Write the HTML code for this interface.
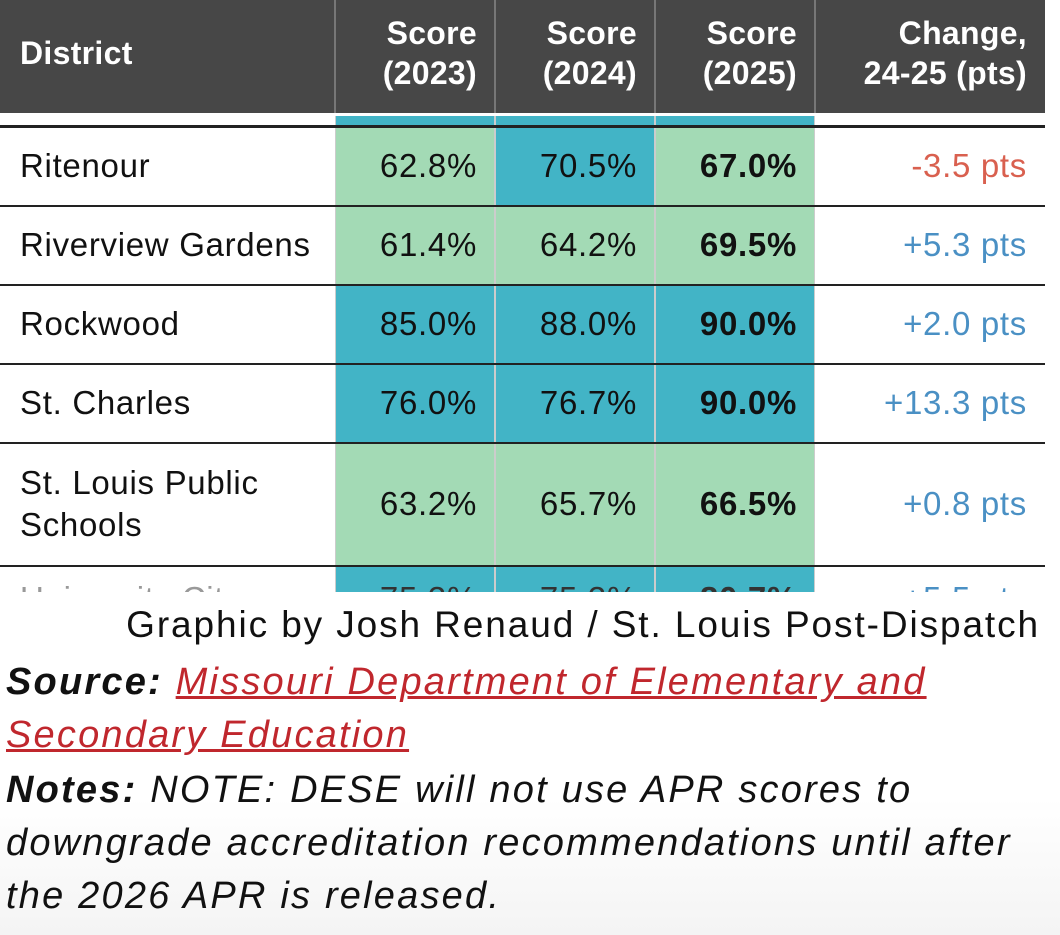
<!DOCTYPE html>
<html><head><meta charset="utf-8"><style>
body{margin:0;width:1060px;height:935px;overflow:hidden;background:#fff;font-family:"Liberation Sans",sans-serif;position:relative}
.hd{position:absolute;left:0;top:0;width:1045px;height:113px;background:#474747}
.hc{position:absolute;color:#fff;font-weight:bold;font-size:32px;line-height:40px;text-align:right;letter-spacing:0.3px}
.vs{position:absolute;top:0;width:2px;height:113px;background:#777}
.cell{position:absolute;box-sizing:border-box;border-left:1px solid #ccc;border-right:1px solid #ccc}
.g{background:#a3dab5}.t{background:#42b4c6}
.hl{position:absolute;left:0;width:1045px;height:2px;background:#222}
.tx{position:absolute;font-size:33px;color:#111;line-height:42px;letter-spacing:0.7px;white-space:nowrap}
.r{text-align:right}
.ft{position:absolute;left:6px;font-size:38px;font-style:italic;color:#111;line-height:53px;width:1050px;white-space:nowrap;letter-spacing:2.2px}
a{color:#c0272d}
</style></head><body>
<div class="hd"></div>
<div class="vs" style="left:334px"></div><div class="vs" style="left:494px"></div><div class="vs" style="left:654px"></div><div class="vs" style="left:814px"></div>
<div class="hc" style="left:20px;top:33px;text-align:left">District</div>
<div class="hc" style="left:335px;top:13px;width:142px">Score<br>(2023)</div>
<div class="hc" style="left:495px;top:13px;width:142px">Score<br>(2024)</div>
<div class="hc" style="left:655px;top:13px;width:142px">Score<br>(2025)</div>
<div class="hc" style="left:815px;top:13px;width:212px">Change,<br>24-25 (pts)</div>

<div class="cell t" style="left:335px;top:116px;width:160px;height:10px"></div>
<div class="cell t" style="left:495px;top:116px;width:160px;height:10px"></div>
<div class="cell t" style="left:655px;top:116px;width:160px;height:10px"></div>

<div class="cell g" style="left:335px;top:126px;width:160px;height:80px"></div><div class="cell t" style="left:495px;top:126px;width:160px;height:80px"></div><div class="cell g" style="left:655px;top:126px;width:160px;height:80px"></div>
<div class="cell g" style="left:335px;top:206px;width:160px;height:79px"></div><div class="cell g" style="left:495px;top:206px;width:160px;height:79px"></div><div class="cell g" style="left:655px;top:206px;width:160px;height:79px"></div>
<div class="cell t" style="left:335px;top:285px;width:160px;height:79px"></div><div class="cell t" style="left:495px;top:285px;width:160px;height:79px"></div><div class="cell t" style="left:655px;top:285px;width:160px;height:79px"></div>
<div class="cell t" style="left:335px;top:364px;width:160px;height:79px"></div><div class="cell t" style="left:495px;top:364px;width:160px;height:79px"></div><div class="cell t" style="left:655px;top:364px;width:160px;height:79px"></div>
<div class="cell g" style="left:335px;top:443px;width:160px;height:123px"></div><div class="cell g" style="left:495px;top:443px;width:160px;height:123px"></div><div class="cell g" style="left:655px;top:443px;width:160px;height:123px"></div>
<div class="cell t" style="left:335px;top:566px;width:160px;height:26px"></div><div class="cell t" style="left:495px;top:566px;width:160px;height:26px"></div><div class="cell t" style="left:655px;top:566px;width:160px;height:26px"></div>

<div class="hl" style="top:125px;height:3px"></div>
<div class="hl" style="top:205px"></div>
<div class="hl" style="top:284px"></div>
<div class="hl" style="top:363px"></div>
<div class="hl" style="top:442px"></div>
<div class="hl" style="top:565px"></div>

<div class="tx" style="left:20px;top:145px">Ritenour</div>
<div class="tx r" style="left:335px;top:145px;width:142px">62.8%</div>
<div class="tx r" style="left:495px;top:145px;width:142px">70.5%</div>
<div class="tx r" style="left:655px;top:145px;width:142px;font-weight:bold">67.0%</div>
<div class="tx r" style="left:795px;top:145px;width:232px;color:#d9604f">-3.5 pts</div>

<div class="tx" style="left:20px;top:224px">Riverview Gardens</div>
<div class="tx r" style="left:335px;top:224px;width:142px">61.4%</div>
<div class="tx r" style="left:495px;top:224px;width:142px">64.2%</div>
<div class="tx r" style="left:655px;top:224px;width:142px;font-weight:bold">69.5%</div>
<div class="tx r" style="left:795px;top:224px;width:232px;color:#4a90c4">+5.3 pts</div>

<div class="tx" style="left:20px;top:303px">Rockwood</div>
<div class="tx r" style="left:335px;top:303px;width:142px">85.0%</div>
<div class="tx r" style="left:495px;top:303px;width:142px">88.0%</div>
<div class="tx r" style="left:655px;top:303px;width:142px;font-weight:bold">90.0%</div>
<div class="tx r" style="left:795px;top:303px;width:232px;color:#4a90c4">+2.0 pts</div>

<div class="tx" style="left:20px;top:382px">St. Charles</div>
<div class="tx r" style="left:335px;top:382px;width:142px">76.0%</div>
<div class="tx r" style="left:495px;top:382px;width:142px">76.7%</div>
<div class="tx r" style="left:655px;top:382px;width:142px;font-weight:bold">90.0%</div>
<div class="tx r" style="left:795px;top:382px;width:232px;color:#4a90c4">+13.3 pts</div>

<div class="tx" style="left:20px;top:462px">St. Louis Public<br>Schools</div>
<div class="tx r" style="left:335px;top:483px;width:142px">63.2%</div>
<div class="tx r" style="left:495px;top:483px;width:142px">65.7%</div>
<div class="tx r" style="left:655px;top:483px;width:142px;font-weight:bold">66.5%</div>
<div class="tx r" style="left:795px;top:483px;width:232px;color:#4a90c4">+0.8 pts</div>

<div class="tx" style="left:20px;top:578px;color:#999">University City</div>
<div class="tx r" style="left:335px;top:578px;width:142px;color:#333">75.3%</div>
<div class="tx r" style="left:495px;top:578px;width:142px;color:#333">75.3%</div>
<div class="tx r" style="left:655px;top:578px;width:142px;color:#333;font-weight:bold">80.7%</div>
<div class="tx r" style="left:795px;top:578px;width:232px;color:#4a90c4">+5.5 pts</div>

<div style="position:absolute;left:0;top:592px;width:1060px;height:343px;background:linear-gradient(#fff,#fff 60%,#f4f4f4)"></div>
<div style="position:absolute;left:0;top:600px;width:1040px;text-align:right;font-size:37px;line-height:50px;color:#111;letter-spacing:1.9px;white-space:nowrap">Graphic by Josh Renaud / St. Louis Post-Dispatch</div>
<div class="ft" style="top:656px"><b>Source:</b> <a href="#x" style="color:#c0272d">Missouri Department of Elementary and<br>Secondary Education</a></div>
<div class="ft" style="top:764px"><b>Notes:</b> NOTE: DESE will not use APR scores to<br>downgrade accreditation recommendations until after<br>the 2026 APR is released.</div>
</body></html>
